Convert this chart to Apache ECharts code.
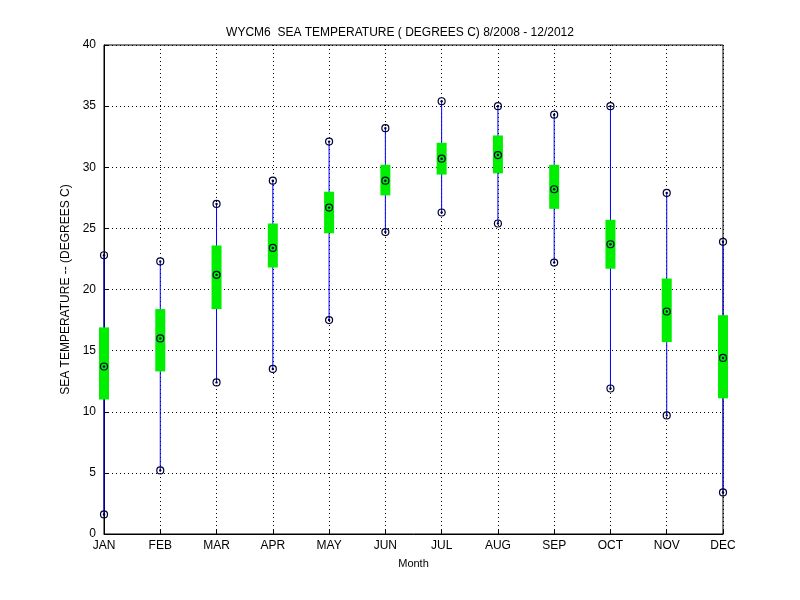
<!DOCTYPE html>
<html><head><meta charset="utf-8">
<script src="https://cdn.jsdelivr.net/npm/echarts@6/dist/echarts.min.js"></script>
<style>html,body{margin:0;background:#fff}#c{width:800px;height:600px}</style>
</head><body><div id="c"></div>
<script>
const months=['JAN','FEB','MAR','APR','MAY','JUN','JUL','AUG','SEP','OCT','NOV','DEC'];
const maxV=[22.8,22.3,27.0,28.9,32.1,33.2,35.4,35.0,34.3,35.0,27.9,23.9];
const minV=[1.6,5.2,12.4,13.5,17.5,24.7,26.3,25.4,22.2,11.9,9.7,3.4];
const meanV=[13.7,16.0,21.2,23.4,26.7,28.9,30.7,31.0,28.2,23.7,18.2,14.4];
const boxLo=[11.0,13.3,18.4,21.8,24.6,27.7,29.4,29.5,26.6,21.7,15.7,11.1];
const boxHi=[16.9,18.4,23.6,25.4,28.0,30.2,32.0,32.6,30.2,25.7,20.9,17.9];
const font='Liberation Sans';
const chart=echarts.init(document.getElementById('c'));
const data=months.map((m,i)=>[i,minV[i],maxV[i],boxLo[i],boxHi[i],meanV[i]]);
function circ(x,y){return [{type:'circle',shape:{cx:x,cy:y,r:3.5},style:{fill:'none',stroke:'#000033',lineWidth:1.2}},
 {type:'circle',shape:{cx:x,cy:y,r:1.2},style:{fill:'#000033'}}];}
chart.setOption({
 animation:false,
 title:{text:'WYCM6  SEA TEMPERATURE ( DEGREES C) 8/2008 - 12/2012',left:'center',top:22,textStyle:{fontFamily:font,fontSize:12,fontWeight:'normal',color:'#000'}},
 grid:{left:104,right:77,top:45,bottom:66,show:true,borderColor:'#000',borderWidth:1},
 xAxis:{type:'category',data:months,boundaryGap:false,name:'Month',nameLocation:'middle',nameGap:24,
  nameTextStyle:{fontFamily:font,fontSize:11,color:'#000'},
  axisLine:{lineStyle:{color:'#000'}},axisTick:{inside:true,length:5,lineStyle:{color:'#000'}},
  axisLabel:{fontFamily:font,fontSize:12,color:'#000',margin:6},
  splitLine:{show:true,lineStyle:{type:[1,3],color:'#000'}}},
 yAxis:{type:'value',min:0,max:40,interval:5,name:'SEA TEMPERATURE -- (DEGREES C)',nameLocation:'middle',nameGap:20,
  nameTextStyle:{fontFamily:font,fontSize:12,color:'#000'},
  axisLine:{show:true,lineStyle:{color:'#000'}},axisTick:{show:true,inside:true,length:5,lineStyle:{color:'#000'}},
  axisLabel:{fontFamily:font,fontSize:12,color:'#000',margin:8},
  splitLine:{show:true,lineStyle:{type:[1,3],color:'#000'}}},
 series:[{type:'custom',data:data,clip:false,renderItem:(p,api)=>{
  const x=api.value(0);
  const pMin=api.coord([x,api.value(1)]),pMax=api.coord([x,api.value(2)]);
  const pLo=api.coord([x,api.value(3)]),pHi=api.coord([x,api.value(4)]);
  const pM=api.coord([x,api.value(5)]);
  return {type:'group',children:[
   {type:'line',shape:{x1:pMin[0],y1:pMin[1],x2:pMax[0],y2:pMax[1]},style:{stroke:'#0000ff',lineWidth:1}},
   {type:'rect',shape:{x:pLo[0]-5,y:pHi[1],width:10,height:pLo[1]-pHi[1]},style:{fill:'#00ee00'}},
   ...circ(pMin[0],pMin[1]),...circ(pMax[0],pMax[1]),...circ(pM[0],pM[1])
  ]};
 }}]
});
</script></body></html>
